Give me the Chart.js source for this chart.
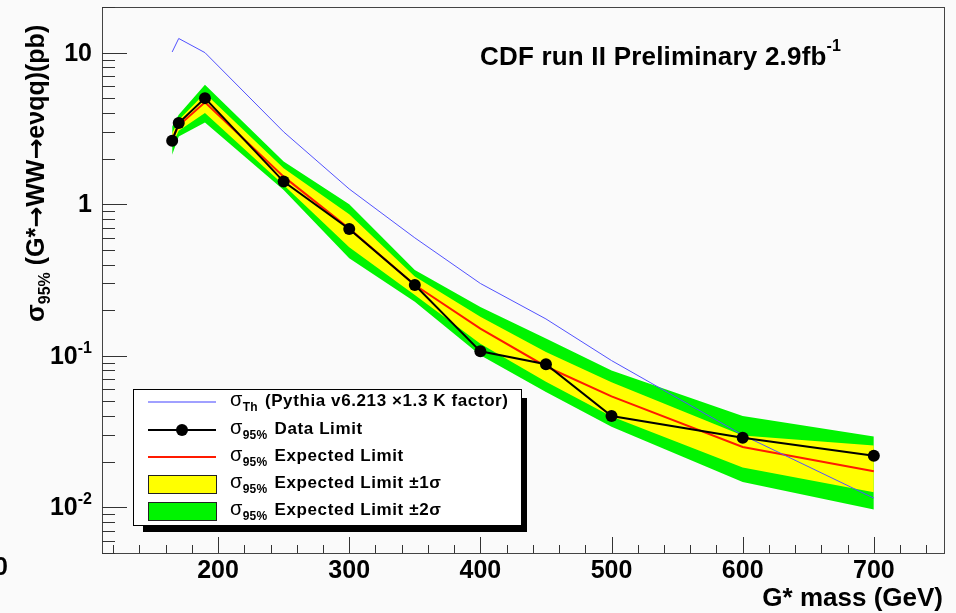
<!DOCTYPE html>
<html>
<head>
<meta charset="utf-8">
<script src="https://cdn.jsdelivr.net/npm/chart.js@4.4.1/dist/chart.umd.min.js"></script>
<style>
  html, body { margin: 0; padding: 0; background: #fafafa; }
  canvas { display: block; }
</style>
</head>
<body>
<canvas id="limits" width="956" height="613"></canvas>
<script>
// G* -> WW -> e nu q q, 95% CL cross-section limits (pb)
const masses = [165, 170, 190, 250, 300, 350, 400, 450, 500, 600, 700];
const theory = [10.1, 12.4, 10.0, 3.0, 1.26, 0.60, 0.30, 0.175, 0.093, 0.030, 0.0115];
const observed = [2.62, 3.43, 5.01, 1.41, 0.687, 0.293, 0.107, 0.088, 0.040, 0.0288, 0.0219];
const expected = [2.7, 3.3, 4.7, 1.52, 0.69, 0.293, 0.151, 0.085, 0.054, 0.025, 0.0173];
const oneSigmaLo = [2.47, 3.05, 4.0, 1.34, 0.52, 0.252, 0.120, 0.0673, 0.0397, 0.0183, 0.0126];
const oneSigmaHi = [2.94, 3.6, 5.4, 1.73, 0.86, 0.333, 0.181, 0.106, 0.067, 0.0298, 0.0256];
const twoSigmaLo = [2.12, 2.8, 3.46, 1.24, 0.44, 0.227, 0.101, 0.0578, 0.034, 0.0147, 0.0097];
const twoSigmaHi = [3.26, 3.89, 6.15, 1.91, 1.0, 0.368, 0.210, 0.130, 0.080, 0.040, 0.0294];

const xTicks = [200, 300, 400, 500, 600, 700];
const yTicks = [0.01, 0.1, 1, 10];
const yTickLabels = [['10', '-2'], ['10', '-1'], ['1', ''], ['10', '']];

const FONT = '"Liberation Sans", Arial, sans-serif';
const ARROW_FONT = '"DejaVu Sans", sans-serif';
const GREEN = '#00f400';
const YELLOW = '#ffff00';
const RED = '#ff1a00';
const BLUE = '#5252ff';

const pts = arr => masses.map((m, i) => ({ x: m, y: arr[i] }));

// draw a run of text pieces one after another: [text, font, dy]
function drawRuns(ctx, runs, x, y, spacing) {
  ctx.textAlign = 'left';
  ctx.textBaseline = 'alphabetic';
  ctx.letterSpacing = (spacing || 0) + 'px';
  let cx = x;
  runs.forEach(([t, font, dy]) => {
    ctx.font = font;
    ctx.fillText(t, cx, y + (dy || 0));
    cx += ctx.measureText(t).width;
  });
  ctx.letterSpacing = '0px';
  return cx;
}

const framePlugin = {
  id: 'frame',
  beforeDraw(chart) {
    const { ctx, width, height } = chart;
    ctx.save();
    ctx.fillStyle = '#fafafa';
    ctx.fillRect(0, 0, width, height);
    ctx.restore();
  },
  afterDraw(chart) {
    const { ctx, chartArea: a, scales: { x, y } } = chart;
    ctx.save();

    // frame
    ctx.strokeStyle = '#444';
    ctx.lineWidth = 1;
    ctx.strokeRect(a.left + 0.5, a.top + 0.5, a.right - a.left, a.bottom - a.top);

    // x ticks, every 20 GeV, longer on the hundreds
    ctx.strokeStyle = '#333';
    ctx.beginPath();
    for (let m = 120; m <= x.max; m += 20) {
      const px = Math.round(x.getPixelForValue(m)) + 0.5;
      const len = m % 100 === 0 ? 16 : 8;
      ctx.moveTo(px, a.bottom);
      ctx.lineTo(px, a.bottom - len);
    }
    // y ticks, 1..9 per decade
    for (let d = -3; d <= 1; d++) {
      for (let k = 1; k <= 9; k++) {
        const v = k * Math.pow(10, d);
        if (v < y.min || v > y.max) continue;
        const py = Math.round(y.getPixelForValue(v)) + 0.5;
        const len = k === 1 ? 25 : 13;
        ctx.moveTo(a.left, py);
        ctx.lineTo(a.left + len, py);
      }
    }
    ctx.stroke();

    // tick labels
    ctx.fillStyle = '#000';
    ctx.font = 'bold 25px ' + FONT;
    ctx.textAlign = 'center';
    ctx.textBaseline = 'alphabetic';
    xTicks.forEach(m => {
      ctx.fillText(String(m), x.getPixelForValue(m), a.bottom + 25);
    });
    yTicks.forEach((v, i) => {
      const py = y.getPixelForValue(v);
      const [base, exp] = yTickLabels[i];
      ctx.textAlign = 'right';
      if (exp) {
        ctx.font = 'bold 16px ' + FONT;
        ctx.fillText(exp, 92, py - 3);
        const ew = ctx.measureText(exp).width;
        ctx.font = 'bold 25px ' + FONT;
        ctx.fillText(base, 92 - ew, py + 8);
      } else {
        ctx.font = 'bold 25px ' + FONT;
        ctx.fillText(base, 92, py + 8);
      }
    });
    ctx.textAlign = 'right';
    ctx.font = 'bold 25px ' + FONT;
    ctx.fillText('0', 8, 575);

    // axis titles
    ctx.font = 'bold 26px ' + FONT;
    ctx.fillText('G* mass (GeV)', 943, 606);

    ctx.save();
    ctx.translate(44, 322);
    ctx.rotate(-Math.PI / 2);
    const tf = 'bold 25px ' + FONT;
    const af = 'bold 25px ' + ARROW_FONT;
    drawRuns(ctx, [
      ['σ', 'bold 26px ' + FONT, 0],
      ['95%', 'bold 16px ' + FONT, 6],
      [' (G*', tf, 0],
      ['→', af, 0],
      ['WW', tf, 0],
      ['→', af, 0],
      ['eνqq)(pb)', tf, 0]
    ], 0, 0);
    ctx.restore();

    // header
    drawRuns(ctx, [
      ['CDF run II Preliminary 2.9fb', 'bold 26px ' + FONT, 0],
      ['-1', 'bold 16px ' + FONT, -14]
    ], 480, 65, 0.2);

    // legend box with shadow
    const lx = 133, ly = 389, lw = 388, lh = 136;
    ctx.fillStyle = '#000';
    ctx.fillRect(143, 398, 384, 134);
    ctx.fillStyle = '#fff';
    ctx.fillRect(lx, ly, lw, lh);
    ctx.strokeStyle = '#000';
    ctx.lineWidth = 1;
    ctx.strokeRect(lx + 0.5, ly + 0.5, lw, lh);

    const rows = [402, 430, 457, 484, 511];
    const s0 = 148, s1 = 216;

    ctx.lineWidth = 1.5;
    ctx.strokeStyle = '#8080ff';
    ctx.beginPath(); ctx.moveTo(s0, rows[0]); ctx.lineTo(s1, rows[0]); ctx.stroke();

    ctx.lineWidth = 2;
    ctx.strokeStyle = '#000';
    ctx.beginPath(); ctx.moveTo(s0, rows[1]); ctx.lineTo(s1, rows[1]); ctx.stroke();
    ctx.fillStyle = '#000';
    ctx.beginPath(); ctx.arc((s0 + s1) / 2, rows[1], 6, 0, Math.PI * 2); ctx.fill();

    ctx.strokeStyle = RED;
    ctx.beginPath(); ctx.moveTo(s0, rows[2]); ctx.lineTo(s1, rows[2]); ctx.stroke();

    ctx.lineWidth = 1;
    ctx.strokeStyle = '#222';
    ctx.fillStyle = YELLOW;
    ctx.fillRect(s0, rows[3] - 9, s1 - s0, 18);
    ctx.strokeRect(s0 + 0.5, rows[3] - 9 + 0.5, s1 - s0, 18);
    ctx.fillStyle = GREEN;
    ctx.fillRect(s0, rows[4] - 9, s1 - s0, 18);
    ctx.strokeRect(s0 + 0.5, rows[4] - 9 + 0.5, s1 - s0, 18);

    const legendTexts = [
      ['Th', '(Pythia v6.213 ×1.3 K factor)'],
      ['95%', 'Data Limit'],
      ['95%', 'Expected Limit'],
      ['95%', 'Expected Limit ±1σ'],
      ['95%', 'Expected Limit ±2σ']
    ];
    ctx.fillStyle = '#000';
    legendTexts.forEach(([sub, label], i) => {
      const by = rows[i] + 3.5;
      let cx = drawRuns(ctx, [
        ['σ', '20px ' + FONT, 0],
        [sub, 'bold 12px ' + FONT, 5]
      ], 230, by, 0.3);
      drawRuns(ctx, [[label, 'bold 17px ' + FONT, 0]], Math.max(cx + 7, i === 0 ? 263 : 274), by, 0.6);
    });

    ctx.restore();
  }
};

new Chart(document.getElementById('limits'), {
  type: 'line',
  data: {
    datasets: [
      {
        label: 'Data Limit',
        data: pts(observed),
        borderColor: '#000',
        backgroundColor: '#000',
        borderWidth: 2,
        pointRadius: 6,
        pointBorderWidth: 0,
        fill: false
      },
      {
        label: 'Theory',
        data: pts(theory),
        borderColor: BLUE,
        borderWidth: 1,
        pointRadius: 0,
        fill: false
      },
      {
        label: 'Expected Limit',
        data: pts(expected),
        borderColor: RED,
        borderWidth: 2,
        pointRadius: 0,
        fill: false
      },
      {
        label: '+1 sigma',
        data: pts(oneSigmaHi),
        borderWidth: 0,
        pointRadius: 0,
        backgroundColor: YELLOW,
        fill: '+1'
      },
      {
        label: '-1 sigma',
        data: pts(oneSigmaLo),
        borderWidth: 0,
        pointRadius: 0,
        fill: false
      },
      {
        label: '+2 sigma',
        data: pts(twoSigmaHi),
        borderWidth: 0,
        pointRadius: 0,
        backgroundColor: GREEN,
        fill: '+1'
      },
      {
        label: '-2 sigma',
        data: pts(twoSigmaLo),
        borderWidth: 0,
        pointRadius: 0,
        fill: false
      }
    ]
  },
  options: {
    responsive: false,
    animation: false,
    devicePixelRatio: 1,
    layout: { padding: { left: 102, top: 7, right: 12, bottom: 60 } },
    elements: { line: { tension: 0 } },
    plugins: {
      legend: { display: false },
      tooltip: { enabled: false },
      filler: { drawTime: 'beforeDatasetsDraw' }
    },
    scales: {
      x: { type: 'linear', min: 111.5, max: 753.5, display: false },
      y: { type: 'logarithmic', min: 0.005, max: 20, display: false }
    }
  },
  plugins: [framePlugin]
});
</script>
</body>
</html>
